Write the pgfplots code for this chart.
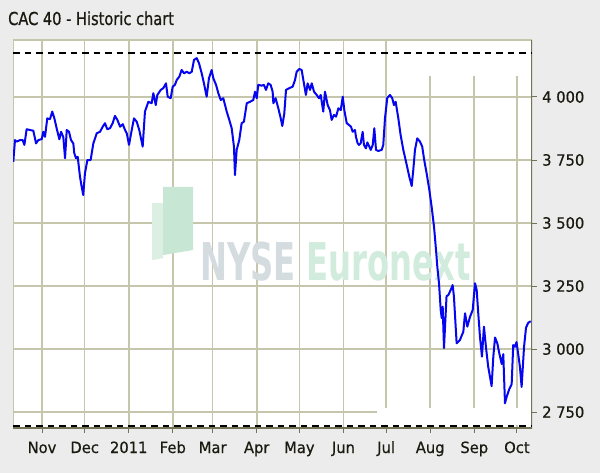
\documentclass[border=0pt]{standalone}
\usepackage{pgfplots}
\pgfplotsset{compat=1.18}
\usepackage{pgfplotstable}
\usepackage{fontspec}
\setmainfont{DejaVu Sans}
\newfontfamily\titlefont[FakeStretch=0.82,FakeBold=0.8]{DejaVu Sans}
\newfontfamily\labfont[FakeStretch=0.95,FakeBold=0.5]{DejaVu Sans}
\newfontfamily\wmfont[FakeStretch=0.62]{DejaVu Sans Bold}
\definecolor{bgcol}{RGB}{236,236,236}
\definecolor{gridcol}{RGB}{198,198,172}
\definecolor{axisdark}{RGB}{115,115,85}
\definecolor{labcol}{RGB}{26,26,16}
\definecolor{linecol}{RGB}{5,5,240}
\definecolor{wmgray}{RGB}{212,220,224}
\definecolor{wmgreen}{RGB}{209,236,220}
\definecolor{logoA}{RGB}{200,230,212}
\definecolor{logoB}{RGB}{219,239,227}

\pgfplotstableread{
day value
10.8 3743
12.0 3829
13.2 3823
15.5 3829
17.4 3829
18.6 3810
20.2 3872
22.6 3869
24.9 3866
26.8 3816
28.4 3829
30.8 3833
31.9 3862
33.1 3842
34.7 3915
36.6 3912
38.2 3942
39.7 3915
41.3 3876
43.2 3832
44.4 3862
46.0 3840
47.2 3757
48.4 3869
50.0 3862
51.4 3829
53.0 3816
53.7 3777
54.9 3757
56.1 3763
57.7 3684
58.9 3644
60.0 3611
61.2 3697
62.9 3750
65.2 3750
67.1 3816
69.5 3856
71.8 3862
73.7 3882
75.3 3896
76.9 3872
78.8 3876
80.7 3896
82.3 3925
84.0 3909
85.9 3882
87.8 3892
89.4 3869
90.6 3856
92.2 3810
94.1 3869
95.7 3915
97.6 3902
99.4 3869
101.8 3803
103.4 3942
105.8 3981
108.1 3975
109.3 4015
111.0 3968
112.1 4008
114.5 4028
116.3 4035
118.2 4054
119.4 4001
121.5 3995
122.9 4041
124.5 4048
125.7 4067
127.6 4081
129.2 4107
130.9 4094
132.8 4100
134.6 4094
136.3 4100
137.9 4147
139.8 4154
141.4 4134
143.3 4094
144.9 4054
146.8 4001
148.4 4074
150.3 4107
151.5 4074
153.4 4048
155.0 4015
156.7 3988
158.5 3995
160.9 3942
162.7 3909
164.4 3876
166.0 3803
166.7 3690
167.9 3790
169.7 3829
171.4 3896
173.0 3902
175.0 3975
177.3 3981
179.6 3988
180.8 4021
182.0 3995
183.1 4048
185.5 4045
187.1 4048
188.5 4028
190.1 4054
191.8 4048
193.2 4021
193.7 3975
195.3 3995
197.2 3955
198.9 3915
200.0 3885
201.4 3935
202.6 4028
204.9 4035
207.3 4041
208.9 4067
210.1 4100
211.9 4111
213.6 4107
215.2 4054
216.6 4008
217.8 4054
219.5 4028
220.7 4054
222.3 4021
224.2 4008
225.8 3995
227.0 4008
228.8 3942
230.0 4021
231.9 3968
233.5 3948
234.7 3909
236.3 3929
237.8 3922
239.4 3955
241.1 3948
242.5 4001
243.6 3948
245.3 3896
246.9 3889
248.3 3882
249.5 3862
251.1 3869
251.8 3842
253.0 3816
253.9 3810
255.1 3816
256.5 3862
257.4 3810
258.8 3796
259.8 3820
261.2 3803
262.2 3790
263.6 3810
264.7 3876
265.9 3790
267.5 3786
269.9 3790
271.0 3810
272.2 3915
273.8 3996
275.7 4008
277.3 3995
278.5 3968
279.7 3981
281.6 3915
283.2 3849
285.1 3790
287.0 3743
289.3 3684
291.0 3647
292.1 3710
293.3 3790
294.9 3836
296.8 3823
298.4 3803
299.8 3750
301.5 3697
303.4 3631
305.0 3565
306.7 3485
308.1 3393
309.0 3327
310.2 3261
311.4 3155
312.1 3123
312.8 3168
313.7 3004
315.5 3210
316.7 3214
318.4 3234
319.8 3254
320.7 3208
322.6 3023
324.9 3036
327.3 3069
328.5 3142
330.1 3089
332.0 3128
333.9 3155
335.5 3261
336.7 3234
337.8 3142
339.0 3049
340.4 2970
341.8 3089
343.2 3009
344.8 2930
347.2 2853
348.4 2970
349.6 3046
351.2 3023
352.6 2983
354.3 2941
355.4 2980
356.6 2785
357.8 2811
359.6 2841
361.3 2861
362.4 3016
363.6 3009
364.7 3028
366.0 2976
367.1 2930
368.3 2850
370.0 3009
371.4 3085
373.0 3105
374.7 3110
}\cacdata

\begin{document}
\begin{tikzpicture}
\fill[bgcol] (-13bp,-45bp) rectangle (587bp,428bp);
\begin{axis}[
  scale only axis, width=519bp, height=388bp,
  at={(0,0)}, anchor=south west,
  xmin=10.6, xmax=375.6, ymin=2687, ymax=4226,
  axis background/.style={fill=white},
  axis line style={draw=none},
  xtick={31,61,92,123,151,182,212,243,273,304,335,365},
  xticklabels={Nov,Dec,2011,Feb,Mar,Apr,May,Jun,Jul,Aug,Sep,Oct},
  ytick={2750,3000,3250,3500,3750,4000},
  yticklabels={2 750,3 000,3 250,3 500,3 750,4 000},
  xtick pos=left, ytick pos=right,
  xticklabel pos=left, yticklabel pos=right,
  tick align=outside, major tick length=5bp,
  tick style={draw=axisdark, line width=1bp},
  grid=major, major grid style={draw=gridcol, line width=1.6bp},
  ticklabel style={font=\labfont\fontsize{15.5bp}{18bp}\selectfont, text=labcol},
  xticklabel style={anchor=base, inner sep=0pt, yshift=-20bp},
  yticklabel style={anchor=base west, inner sep=0pt, xshift=5bp, yshift=-5.6bp},
]
% watermark
\fill[logoB] (axis cs:108.4,3579) -- (axis cs:116.1,3579) -- (axis cs:116.1,3361) -- (axis cs:108.4,3353) -- cycle;
\fill[logoA] (axis cs:116.1,3643) -- (axis cs:137.2,3643) -- (axis cs:137.2,3393) -- (axis cs:116.1,3373) -- cycle;
\node[anchor=base west, inner sep=0pt, font=\wmfont\fontsize{52bp}{56bp}\selectfont] at (axis cs:142.1,3274)
  {\textcolor{wmgray}{NYSE} \textcolor{wmgreen}{Euronext}};
% white patches over the grid
\fill[white] (axis cs:279.2,4083) rectangle (axis cs:375.6,4226);
\fill[white] (axis cs:266.6,2699) rectangle (axis cs:375.6,2766);
% borders
\draw[gridcol, line width=1.6bp] (rel axis cs:0,0) -- (rel axis cs:0,1) -- (rel axis cs:1,1);
\draw[axisdark, line width=1.3bp] (rel axis cs:0,0) -- (rel axis cs:1,0) -- (rel axis cs:1,1);
% max / min lines
\addplot[black, line width=2.4bp, dash pattern=on 6.5bp off 5bp] coordinates {(10.6,4175) (375.6,4175)};
\addplot[black, line width=2.4bp, dash pattern=on 6.5bp off 5bp] coordinates {(10.6,2695) (375.6,2695)};
% index
\addplot[linecol, line width=2bp, line join=round] table[x=day, y=value] {\cacdata};
\end{axis}
\node[anchor=base west, inner sep=0pt, font=\titlefont\fontsize{17.8bp}{20bp}\selectfont, text=labcol] at (-5bp,403bp) {CAC 40 - Historic chart};
\pgfresetboundingbox
\path (-13bp,-45bp) rectangle (587bp,428bp);
\end{tikzpicture}
\end{document}
